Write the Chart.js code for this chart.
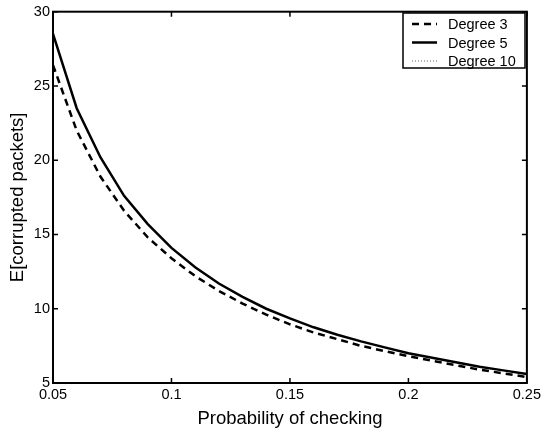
<!DOCTYPE html>
<html>
<head>
<meta charset="utf-8">
<script src="https://cdn.jsdelivr.net/npm/chart.js@4.4.1/dist/chart.umd.min.js"></script>
<style>
  html, body { margin: 0; padding: 0; background: #fff; }
  #wrap { width: 544px; height: 432px; }
</style>
</head>
<body>
<div id="wrap"><canvas id="chart" width="544" height="432"></canvas></div>
<script>
// --- data ---
const probCheck = [0.05, 0.06, 0.07, 0.08, 0.09, 0.10, 0.11, 0.12, 0.13, 0.14, 0.15,
                   0.16, 0.17, 0.18, 0.19, 0.20, 0.21, 0.22, 0.23, 0.24, 0.25];
const degree3 = [26.4, 22.0, 18.9, 16.6, 14.8, 13.4, 12.2, 11.2, 10.35, 9.6, 8.95,
                 8.4, 7.95, 7.5, 7.15, 6.8, 6.5, 6.2, 5.9, 5.65, 5.4];
const degree5 = [28.5, 23.5, 20.2, 17.6, 15.7, 14.1, 12.8, 11.7, 10.8, 10.0, 9.35,
                 8.75, 8.25, 7.8, 7.4, 7.0, 6.7, 6.4, 6.1, 5.85, 5.6];
// degree 10 sits under the degree 5 curve
const degree10 = [28.5, 23.5, 20.2, 17.6, 15.7, 14.1, 12.8, 11.7, 10.8, 10.0, 9.35,
                  8.75, 8.25, 7.8, 7.4, 7.0, 6.7, 6.4, 6.1, 5.85, 5.6];
const xTicks = [0.05, 0.1, 0.15, 0.2, 0.25];
const yTicks = [5, 10, 15, 20, 25, 30];

const FONT = 'Liberation Sans, Arial, Helvetica, sans-serif';

const toPoints = (ys) => ys.map((y, i) => ({ x: probCheck[i], y: y }));

// box, inward ticks, axis titles and legend, matlab style
const matlabFrame = {
    id: 'matlabFrame',
    afterDraw(chart) {
        const ctx = chart.ctx;
        const a = chart.chartArea;
        const xs = chart.scales.x, ys = chart.scales.y;
        ctx.save();
        ctx.strokeStyle = '#000';
        ctx.lineWidth = 2;
        ctx.strokeRect(a.left, a.top, a.right - a.left, a.bottom - a.top);

        // inward ticks on all four sides
        ctx.lineWidth = 1.5;
        ctx.beginPath();
        xTicks.forEach(v => {
            const px = xs.getPixelForValue(v);
            ctx.moveTo(px, a.bottom); ctx.lineTo(px, a.bottom - 5);
            ctx.moveTo(px, a.top); ctx.lineTo(px, a.top + 5);
        });
        yTicks.forEach(v => {
            const py = ys.getPixelForValue(v);
            ctx.moveTo(a.left, py); ctx.lineTo(a.left + 5, py);
            ctx.moveTo(a.right, py); ctx.lineTo(a.right - 5, py);
        });
        ctx.stroke();

        // axis titles
        ctx.fillStyle = '#000';
        ctx.font = '18.5px ' + FONT;
        ctx.textAlign = 'center';
        ctx.textBaseline = 'middle';
        ctx.fillText('Probability of checking', (a.left + a.right) / 2, 419);
        ctx.translate(18, (a.top + a.bottom) / 2);
        ctx.rotate(-Math.PI / 2);
        ctx.fillText('E[corrupted packets]', 0, 0);
        ctx.setTransform(1, 0, 0, 1, 0, 0);

        // legend
        const lx = 403, ly = 13, lw = 122, lh = 55;
        ctx.fillStyle = '#fff';
        ctx.fillRect(lx, ly, lw, lh);
        ctx.lineWidth = 1.5;
        ctx.strokeStyle = '#000';
        ctx.strokeRect(lx, ly, lw, lh);
        ctx.font = '14.5px ' + FONT;
        ctx.textAlign = 'left';
        chart.data.datasets.forEach((ds, i) => {
            const yy = ly + 11 + i * 18.5;
            ctx.beginPath();
            ctx.setLineDash(ds.borderDash || []);
            ctx.lineWidth = ds.borderWidth;
            ctx.strokeStyle = ds.borderColor;
            ctx.moveTo(lx + 9, yy);
            ctx.lineTo(lx + 34, yy);
            ctx.stroke();
            ctx.setLineDash([]);
            ctx.fillStyle = '#000';
            ctx.fillText(ds.label, lx + 45, yy + 1);
        });
        ctx.restore();
    }
};

new Chart(document.getElementById('chart'), {
    type: 'line',
    data: {
        datasets: [
            {
                label: 'Degree 3',
                data: toPoints(degree3),
                borderColor: '#000',
                borderWidth: 2.5,
                borderDash: [7, 5],
                pointRadius: 0,
                tension: 0,
                order: 1
            },
            {
                label: 'Degree 5',
                data: toPoints(degree5),
                borderColor: '#000',
                borderWidth: 2.5,
                pointRadius: 0,
                tension: 0,
                order: 0
            },
            {
                label: 'Degree 10',
                data: toPoints(degree10),
                borderColor: '#666',
                borderWidth: 1,
                borderDash: [1, 2],
                pointRadius: 0,
                tension: 0,
                order: 2
            }
        ]
    },
    options: {
        responsive: false,
        animation: false,
        devicePixelRatio: 1,
        layout: { padding: { top: 9, right: 16, left: 0, bottom: 0 } },
        plugins: { legend: { display: false }, tooltip: { enabled: false } },
        scales: {
            x: {
                type: 'linear',
                min: 0.05,
                max: 0.25,
                afterBuildTicks: (s) => { s.ticks = xTicks.map(v => ({ value: v })); },
                afterFit: (s) => { s.height = 49; },
                grid: { display: false, drawTicks: false },
                border: { display: false },
                ticks: {
                    color: '#000',
                    font: { family: FONT, size: 14.5 },
                    padding: 3,
                    maxRotation: 0,
                    callback: (v) => String(v)
                }
            },
            y: {
                min: 5,
                max: 30,
                afterBuildTicks: (s) => { s.ticks = yTicks.map(v => ({ value: v })); },
                afterFit: (s) => { s.width = 53; },
                grid: { display: false, drawTicks: false },
                border: { display: false },
                ticks: {
                    color: '#000',
                    font: { family: FONT, size: 14.5 },
                    padding: 3
                }
            }
        }
    },
    plugins: [matlabFrame]
});
</script>
</body>
</html>
